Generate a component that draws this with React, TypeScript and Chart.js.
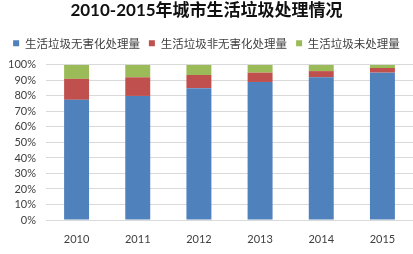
import React, { useEffect, useRef } from "react";
import { Chart, registerables } from "chart.js";

Chart.register(...registerables);

const title = "2010-2015年城市生活垃圾处理情况";
const years = ["2010", "2011", "2012", "2013", "2014", "2015"];
const seriesNames = ["生活垃圾无害化处理量", "生活垃圾非无害化处理量", "生活垃圾未处理量"];
const harmless = [77.5, 80, 85, 89, 92, 95];
const nonHarmless = [13.5, 12, 8.5, 6, 4, 3];
const untreated = [9, 8, 6.5, 5, 4, 2];
const colors = ["#4F81BD", "#C0504D", "#9BBB59"];

const latin = "Lato, 'Liberation Sans', sans-serif";
const cjk = "Lato, 'Noto Sans CJK SC', sans-serif";

const legendGap = {
  id: "legendGap",
  beforeInit(chart: any) {
    const lg = chart.legend;
    if (!lg) return;
    const orig = lg.fit;
    lg.fit = function () {
      orig.call(this);
      this.height += 6;
    };
  },
};

export default function App() {
  const ref = useRef<HTMLCanvasElement | null>(null);
  useEffect(() => {
    if (!ref.current) return;
    const chart = new Chart(ref.current, {
      type: "bar",
      data: {
        labels: years,
        datasets: [harmless, nonHarmless, untreated].map((d, i) => ({
          label: seriesNames[i],
          data: d,
          backgroundColor: colors[i],
          borderWidth: 0,
          barPercentage: 0.408,
          categoryPercentage: 1,
        })),
      },
      plugins: [legendGap],
      options: {
        animation: false,
        responsive: false,
        maintainAspectRatio: false,
        layout: { padding: { left: 0, right: 0, top: 0, bottom: 0 } },
        plugins: {
          tooltip: { enabled: false },
          title: {
            display: true,
            text: title,
            color: "#111111",
            font: { family: cjk, size: 17, weight: "bold" },
            padding: { top: 0, bottom: 8 },
          },
          legend: {
            display: true,
            labels: {
              boxWidth: 6,
              boxHeight: 6,
              padding: 9,
              color: "#404040",
              font: { family: "'Noto Sans CJK SC', sans-serif", size: 11.5 },
            },
          },
        },
        scales: {
          x: {
            stacked: true,
            grid: { display: false, drawTicks: false },
            border: { display: false },
            ticks: {
              color: "#404040",
              font: { family: latin, size: 11 },
              padding: 13,
              maxRotation: 0,
            },
            afterFit: (s: any) => {
              s.height = 34;
            },
          },
          y: {
            stacked: true,
            min: 0,
            max: 100,
            grid: { color: "#d9d9d9", drawTicks: false },
            border: { display: false },
            ticks: {
              count: 11,
              autoSkip: false,
              color: "#404040",
              font: { family: latin, size: 11 },
              padding: 10,
              callback: (v: any) => v + "%",
            },
            afterFit: (s: any) => {
              s.width = 46;
            },
          },
        },
      },
    });
    return () => chart.destroy();
  }, []);
  return (
    <div style={{ position: "fixed", left: 0, top: 0, width: 413, height: 254, background: "#fff" }}>
      <canvas ref={ref} width={413} height={254} style={{ width: 413, height: 254 }} />
    </div>
  );
}
